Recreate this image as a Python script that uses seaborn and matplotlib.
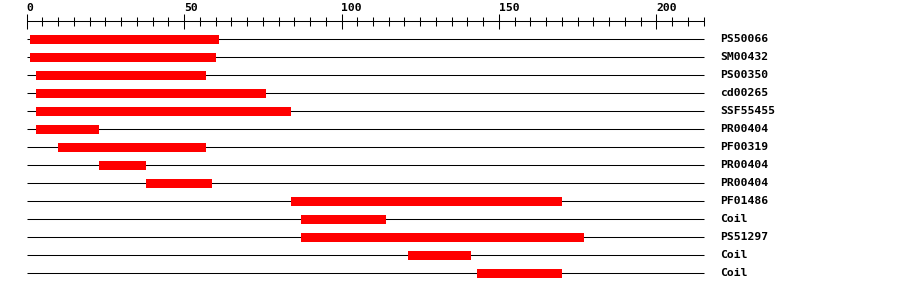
import numpy as np
import matplotlib
matplotlib.use("Agg")
import matplotlib.pyplot as plt
import seaborn as sns

# Data
names = ["PS50066", "SM00432", "PS00350", "cd00265", "SSF55455", "PR00404",
         "PF00319", "PR00404", "PR00404", "PF01486", "Coil", "PS51297", "Coil", "Coil"]
starts = [1, 1, 3, 3, 3, 3, 10, 23, 38, 84, 87, 87, 121, 143]
ends = [61, 60, 57, 76, 84, 23, 57, 38, 59, 170, 114, 177, 141, 170]
seq_length = 215
major_ticks = [0, 50, 100, 150, 200]

sns.set_theme(style="white")
plt.rcParams["font.family"] = ["DejaVu Sans Mono", "DejaVu Sans"]

fig = plt.figure(figsize=(9.0, 2.92), dpi=100)
ax = fig.add_axes([0, 0, 1, 1])
px_per_unit = 3.148
x0_px = 26.7
ax.set_xlim(-x0_px / px_per_unit, (900 - x0_px) / px_per_unit)
row0_px, row_step = 39.3, 18.0
ax.set_ylim((292 - row0_px) / row_step, (0 - row0_px) / row_step)
ax.axis("off")

rows = np.arange(len(names))
lw = 0.75
ax.hlines(rows, 0, seq_length, color="black", lw=lw, zorder=1)
widths = np.array(ends) - np.array(starts)
ax.barh(rows, widths, left=starts, height=0.5, color="#ff0000", edgecolor="none", zorder=2)

for r, n in zip(rows, names):
    ax.text(220.2, r, n, ha="left", va="center", fontsize=8.2, fontweight="bold",
            color="black")

# ruler
def py(p):
    return (p - row0_px) / row_step

ax.hlines(py(21.3), 0, seq_length, color="black", lw=lw)
for t in np.arange(0, seq_length + 1, 5):
    if t in major_ticks:
        ax.vlines(t, py(14), py(28.5), color="black", lw=lw)
    else:
        ax.vlines(t, py(17), py(25.5), color="black", lw=lw)
for t in major_ticks:
    ax.text(t, py(8), str(t), ha="left", va="center", fontsize=8.2,
            fontweight="bold", color="black")

fig.savefig("out.png", dpi=100)
